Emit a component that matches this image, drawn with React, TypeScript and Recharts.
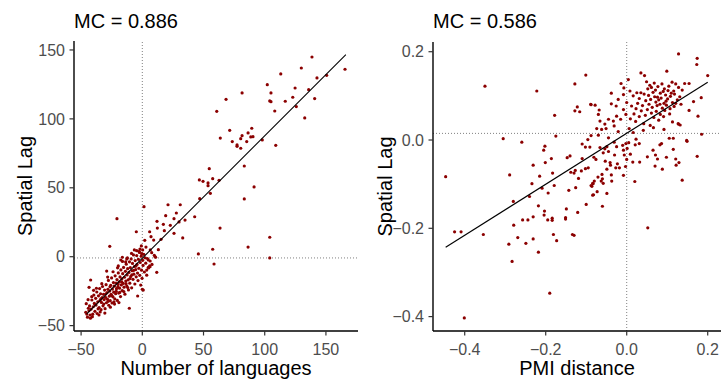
import React from "react";
import { ScatterChart, Scatter, XAxis, YAxis, ReferenceLine } from "recharts";

type Pt = [number, number];

const FONT = '"Liberation Sans", Arial, Helvetica, sans-serif';
const POINT_COLOR = "#8b0000";

// Number of languages vs. its spatial lag
const LANG_TITLE = "MC = 0.886";
const LANG_TICKS_X = [-50, 0, 50, 100, 150];
const LANG_TICKS_Y = [-50, 0, 50, 100, 150];
const LANG_MEAN_LAG = -0.9;
const LANG_FIT: Pt[] = [
  [-45.4, -41.4],
  [166.3, 146.6],
];

const LANG_HIGH: Pt[] = [
  [138.6, 144.9], [129.9, 136.9], [165.6, 136], [113.1, 132.6], [142.7, 129.7],
  [150.6, 131.6], [102.1, 124.8], [81.5, 118.8], [105.1, 118.8], [124.8, 122.4],
  [135.9, 121.2], [68.4, 114.2], [104.1, 113], [105.1, 112.5], [116.8, 112.8],
  [122.9, 115.7], [140.8, 114.7], [60.8, 105.5], [108.2, 105.7], [125.8, 108.9],
  [132.7, 100.7], [71.4, 91.7], [63.7, 86.1], [89.4, 93.2], [86.4, 89.8],
  [81.5, 87.8], [88.6, 86.9], [90.4, 87.1], [73.5, 83.5], [85.3, 83.5],
  [80.4, 85.6], [77.4, 81.1], [77.4, 80.1], [80.4, 78.7], [98, 84.7], [109, 80.8],
];

const LANG_MID: Pt[] = [
  [54.7, 63.9], [83.3, 65.8], [46.6, 55.7], [49.6, 54.7], [53.7, 53.5], [53.7, 51.5],
  [57.5, 56.6], [62.7, 55.4], [55.6, 46], [91.3, 50.6], [46.9, 42.1], [83.3, 41.9],
  [1.4, 36.3], [21, 37.7], [31, 37.7], [27.8, 31.7], [19.1, 29.8], [25.9, 27.6],
  [34.9, 26.6], [42.8, 29], [12, 25.7], [17.2, 23.5], [22.9, 22.8], [30, 25.2],
  [-20.7, 27.6], [12.3, 20.8], [18, 18.9], [6, 18.1], [-4.9, 18.1], [25.9, 17],
  [63.5, 20.8], [7.1, 14.5], [9.3, 12.1], [2, 11.9], [15.3, 12.6], [33, 13.6],
  [104.1, 14.1], [86.4, 7], [57.5, 5.4], [45.8, 2], [104.1, -0.9], [58.6, -5.3],
  [-26.6, 7.5], [13.1, 5.1], [3, 7], [-0.8, 7.8], [-6.5, 4.9], [-4.6, 4.4],
  [-2.5, 3.9], [0.3, 4.9], [-0.5, 2.2], [6.5, 4.9], [7.7, 2.9], [9.8, 1],
  [10.9, -0.4], [4.9, -2.4], [6, -6.7], [4.9, -7.7], [-16.3, -0.4], [-17.6, -2.4],
  [-19.6, -6.7], [-13.6, -3.8], [11.8, -11.3], [10.4, 0], [6.3, -7.3], [3.6, -9.7],
  [-12.7, -1.7], [-1.9, 5.6],
];

const LANG_LOW: Pt[] = [
  [-42.2, -16.9], [-43.5, -22.2], [-41.3, -29], [-44.1, -37.4], [-45.4, -41.6],
  [-42.7, -42.3], [-40.8, -43.5], [-35.4, -42.3], [-10.6, -37.4], [-3.8, -28.5],
  [0.8, -24.2], [-29.1, -10.4], [0, -23.7],
  [-46.2, -40.3], [-44.8, -43.9], [-43.6, -39.2], [-43.1, -35.7], [-42.4, -44.6],
  [-41.9, -38.1], [-41.2, -31.4], [-40.5, -41.7], [-40.1, -36.3], [-39.6, -27.8],
  [-39.2, -33.9], [-38.7, -39.6], [-38.1, -30.2], [-37.8, -35.1], [-37.2, -25.6],
  [-36.9, -41.2], [-36.4, -32.7], [-35.8, -28.4], [-35.3, -36.9], [-34.9, -23.1],
  [-34.6, -31.8], [-34.1, -26.9], [-33.7, -38.4], [-33.4, -33.2], [-32.8, -29.7],
  [-32.5, -21.6], [-32.1, -35.6], [-31.7, -27.3], [-31.2, -31.1], [-30.8, -24.2],
  [-30.4, -37.7], [-30.1, -29.5], [-29.6, -20.3], [-29.3, -33.4], [-28.8, -26.1],
  [-28.5, -30.8], [-28.1, -23.7], [-27.7, -17.2], [-27.4, -35.2], [-26.9, -28.6],
  [-26.6, -24.9], [-26.2, -31.9], [-25.8, -20.7], [-25.5, -27.3], [-25.1, -15.4],
  [-24.7, -33.6], [-24.4, -23.5], [-24.0, -29.1], [-23.6, -18.8], [-23.3, -25.7],
  [-22.9, -21.4], [-22.5, -30.5], [-22.2, -13.9], [-21.8, -26.8], [-21.5, -19.1],
  [-21.1, -23.2], [-20.7, -16.6], [-20.4, -31.7], [-20.0, -21.9], [-19.6, -11.8],
  [-19.3, -26.4], [-18.9, -18.3], [-18.6, -22.8], [-18.2, -14.7], [-17.8, -28.9],
  [-17.5, -9.6], [-17.1, -20.5], [-16.7, -16.1], [-16.4, -24.6], [-16.0, -12.3],
  [-15.6, -19.4], [-15.3, -7.8], [-14.9, -22.1], [-14.6, -14.9], [-14.2, -27.2],
  [-13.8, -10.6], [-13.5, -17.7], [-13.1, -5.4], [-12.7, -21.3], [-12.4, -13.2],
  [-12.0, -8.7], [-11.6, -16.8], [-11.3, -24.1], [-10.9, -11.4], [-10.5, -3.7],
  [-10.2, -19.2], [-9.8, -7.9], [-9.4, -14.3], [-9.1, -1.6], [-8.7, -22.6],
  [-8.3, -10.2], [-8.0, -4.9], [-7.6, -16.4], [-7.2, 1.3], [-6.9, -12.7],
  [-6.5, -7.1], [-6.1, -19.8], [-5.8, -2.8], [-5.4, -9.3], [-5.0, -14.6],
  [-4.6, 0.8], [-4.3, -5.6], [-3.9, -11.9], [-3.5, -17.3], [-3.2, -1.9],
  [-2.8, -8.4], [-2.4, 3.1], [-2.1, -13.5], [-1.7, -4.2], [-1.3, -20.6],
  [-0.9, 0.4], [-0.6, -9.8], [-0.2, -15.7], [0.3, -2.6], [0.6, -6.3],
  [1.2, 1.7], [1.7, -11.1], [2.3, -0.8], [2.8, -4.7], [3.6, -13.4],
  [4.2, -1.3], [5.1, -8.2], [6.4, -3.1], [7.9, -5.6],
  [-38.4, -34.6], [-36.1, -37.8], [-33.9, -30.6], [-31.5, -34.3], [-29.9, -27.1],
  [-27.9, -32.4], [-26.4, -21.8], [-24.9, -28.2], [-23.1, -32.7], [-21.3, -25.1],
  [-19.8, -20.1], [-18.4, -25.9], [-16.9, -18.2], [-15.1, -25.3], [-13.3, -19.6],
  [-11.9, -22.4], [-10.1, -15.9], [-8.5, -13.1], [-7.0, -9.9], [-5.2, -6.8],
  [-34.4, -40.1], [-30.6, -40.9], [-26.1, -36.6], [-22.7, -34.4], [-19.1, -33.3],
  [-37.5, -22.9], [-33.1, -19.6], [-28.3, -14.8], [-23.9, -10.9], [-20.2, -8.1],
  [-16.2, -3.4], [-12.2, -0.9], [-8.8, 2.4], [-39.8, -24.4], [-44.3, -31.2],
  [-45.8, -34.1],
];

// PMI distance vs. its spatial lag
const PMI_TITLE = "MC = 0.586";
const PMI_TICKS_X = [-0.4, -0.2, 0, 0.2];
const PMI_TICKS_Y = [-0.4, -0.2, 0, 0.2];
const PMI_MEAN_LAG = 0.015;
const PMI_FIT: Pt[] = [
  [-0.447, -0.243],
  [0.2, 0.131],
];

const PMI_WEST: Pt[] = [
  [-0.35, 0.122], [-0.222, 0.111], [-0.101, 0.147], [-0.128, 0.127], [-0.088, 0.08],
  [-0.128, 0.066], [-0.122, 0.075], [-0.116, 0.064], [-0.178, 0.056], [-0.175, 0.009],
  [-0.305, 0.003], [-0.259, -0.005], [-0.202, -0.014], [-0.205, -0.023], [-0.186, -0.042],
  [-0.231, -0.057], [-0.201, -0.051], [-0.447, -0.083], [-0.289, -0.079], [-0.215, -0.082],
  [-0.183, -0.075], [-0.234, -0.099], [-0.209, -0.109], [-0.194, -0.12], [-0.179, -0.103],
  [-0.24, -0.128], [-0.28, -0.139], [-0.218, -0.149], [-0.203, -0.161], [-0.204, -0.17],
  [-0.231, -0.174], [-0.195, -0.181], [-0.184, -0.177], [-0.184, -0.182], [-0.257, -0.181],
  [-0.244, -0.181], [-0.279, -0.193], [-0.425, -0.208], [-0.409, -0.208], [-0.354, -0.214],
  [-0.291, -0.236], [-0.269, -0.221], [-0.249, -0.234], [-0.231, -0.224], [-0.218, -0.254],
  [-0.283, -0.275], [-0.181, -0.214], [-0.173, -0.228], [-0.19, -0.347], [-0.401, -0.403],
  [-0.147, -0.04], [-0.14, -0.036], [-0.11, -0.009], [-0.102, -0.016], [-0.096, 0.001],
  [-0.091, -0.016], [-0.088, 0.01], [-0.11, -0.042], [-0.138, -0.073], [-0.13, -0.075],
  [-0.127, -0.069], [-0.112, -0.07], [-0.102, -0.065], [-0.095, -0.063], [-0.119, -0.087],
  [-0.126, -0.108], [-0.143, -0.114], [-0.086, -0.105], [-0.083, -0.099], [-0.1, -0.146],
  [-0.149, -0.156], [-0.151, -0.176], [-0.151, -0.179], [-0.121, -0.164], [-0.134, -0.214],
  [-0.13, -0.216], [-0.084, -0.125],
];

const PMI_EAST: Pt[] = [
  [0.128, 0.195], [0.174, 0.185], [0.173, 0.171], [0.2, 0.146], [0.099, 0.156],
  [0.035, 0.152], [0.044, 0.146], [0.004, 0.137], [-0.014, 0.128], [0.184, 0.096],
  [0.165, 0.087], [0.154, 0.067], [0.176, 0.054], [0.143, 0.128], [0.154, 0.128],
  [-0.038, 0.106], [-0.038, 0.082], [-0.089, 0.081], [-0.078, 0.079], [-0.068, 0.068],
  [-0.07, 0.058], [0.025, 0.107], [0.035, 0.107],
  [0.049, 0.132], [0.057, 0.124], [0.068, 0.129], [0.077, 0.121], [0.087, 0.127],
  [0.093, 0.116], [0.104, 0.122], [0.112, 0.131], [0.121, 0.127], [0.128, 0.119],
  [0.137, 0.113], [0.116, 0.111], [0.071, 0.113], [0.061, 0.119], [0.052, 0.116],
  [0.043, 0.104], [0.054, 0.101], [0.065, 0.108], [0.076, 0.097], [0.083, 0.106],
  [0.096, 0.102], [0.108, 0.099], [0.118, 0.104], [0.131, 0.098], [0.031, 0.094],
  [0.047, 0.089], [0.059, 0.092], [0.072, 0.086], [0.079, 0.091], [0.092, 0.083],
  [0.101, 0.093], [0.113, 0.085], [0.125, 0.091], [0.134, 0.081], [0.027, 0.083],
  [0.039, 0.078], [0.055, 0.081], [0.063, 0.074], [0.075, 0.078], [0.088, 0.072],
  [0.098, 0.079], [0.107, 0.071], [0.117, 0.076], [0.023, 0.071], [0.036, 0.066],
  [0.051, 0.069], [0.061, 0.061], [0.073, 0.065], [0.083, 0.058], [0.094, 0.067],
  [0.106, 0.059], [0.018, 0.059], [0.031, 0.053], [0.046, 0.056], [0.067, 0.051],
  [0.079, 0.045], [0.091, 0.053], [0.113, 0.041], [0.128, 0.036], [0.009, 0.048],
  [0.022, 0.042], [0.042, 0.037], [0.058, 0.033], [0.102, 0.112], [0.097, 0.088],
  [0.085, 0.095], [0.11, 0.106], [0.121, 0.083], [0.069, 0.098], [0.082, 0.081],
  [0.09, 0.11], [0.008, 0.111], [0.016, 0.1], [0, 0.085], [0.012, 0.077],
  [-0.008, 0.069], [-0.002, 0.058], [-0.015, 0.047], [-0.025, 0.054], [-0.033, 0.043],
  [-0.045, 0.047], [-0.054, 0.036], [-0.066, 0.043], [-0.008, 0.103], [-0.021, 0.092],
  [-0.026, 0.077], [-0.007, 0.118],
];

const PMI_SOUTH: Pt[] = [
  [-0.074, 0.026], [-0.062, 0.024], [-0.051, 0.026], [-0.07, 0.011], [-0.045, 0.005],
  [-0.031, 0.032], [-0.021, 0.019], [0.006, 0.026], [0.016, 0.017], [0.023, 0.002],
  [0.041, 0.022], [0.066, 0.028], [0.092, 0.024], [0.105, 0.004], [0.115, 0.004],
  [0.148, -0.001], [0.185, 0.013], [0.132, 0.034], [0.127, 0.037],
  [0.052, -0.199], [0.137, -0.091], [0.174, -0.037], [0.149, -0.003], [0.115, -0.021],
  [0.098, -0.039], [0.121, -0.043], [0.129, -0.051], [0.122, -0.057], [0.088, -0.066],
  [0.07, -0.059], [0.065, -0.023], [0.071, -0.034], [0.076, -0.043], [0.051, -0.038],
  [0.082, -0.011], [0.086, -0.008], [0.02, -0.094], [0.032, -0.05], [0.015, -0.05],
  [-0.003, -0.06], [-0.008, -0.08], [-0.018, -0.063], [-0.027, -0.063], [-0.023, -0.054],
  [-0.041, -0.051], [-0.04, -0.057], [-0.053, -0.048], [-0.049, -0.066], [-0.03, -0.034],
  [-0.045, -0.026], [-0.058, -0.029], [-0.054, -0.02], [-0.066, -0.017], [-0.049, -0.015],
  [-0.076, -0.044], [-0.081, -0.039], [-0.071, -0.084], [-0.061, -0.078], [-0.06, -0.088],
  [-0.063, -0.093], [-0.058, -0.098], [-0.038, -0.079], [-0.037, -0.093], [-0.08, -0.093],
  [-0.084, -0.098], [-0.088, -0.103], [-0.073, -0.117], [-0.082, -0.124], [-0.049, -0.121],
  [-0.06, -0.15], [-0.01, -0.012], [-0.002, -0.008], [0.005, -0.006], [-0.006, -0.034],
  [-0.008, -0.023], [0.009, -0.032], [0, -0.044], [0.001, -0.019], [-0.031, -0.005],
  [-0.025, -0.015], [0.021, -0.011], [0.031, -0.008],
];

const toRows = (pts: Pt[]) => pts.map(([x, y]) => ({ x, y }));
const minus = (s: string) => s.replace("-", "\u2212");

const Dot = (props: any) => (
  <circle cx={props.cx} cy={props.cy} r={1.6} fill={POINT_COLOR} />
);
const NoDot = () => <g />;

interface PanelProps {
  left: number;
  width: number;
  title: string;
  xLabel: string;
  points: Pt[];
  fit: Pt[];
  meanLag: number;
  xDomain: [number, number];
  yDomain: [number, number];
  xTicks: number[];
  yTicks: number[];
  axisWidth: number;
  top: number;
  rightPad: number;
  fmt: (v: number) => string;
}

function MoranPanel(p: PanelProps) {
  const tickStyle = { fill: "#4d4d4d", fontSize: 16, fontFamily: FONT };
  return (
    <div style={{ position: "absolute", left: p.left, top: 0, width: p.width, height: 381 }}>
      <ScatterChart
        width={p.width}
        height={381}
        margin={{ top: p.top, right: p.rightPad, bottom: 0, left: 0 }}
      >
        <XAxis
          type="number"
          dataKey="x"
          domain={p.xDomain}
          ticks={p.xTicks}
          allowDataOverflow
          height={50}
          tick={tickStyle}
          tickFormatter={(v: number) => minus(p.fmt(v))}
          tickSize={4.5}
          tickMargin={8}
          axisLine={{ stroke: "#000", strokeWidth: 1.4 }}
          tickLine={{ stroke: "#333", strokeWidth: 1.2 }}
          label={{
            content: ({ viewBox }: any) => (
              <text
                x={viewBox.x + viewBox.width / 2}
                y={375}
                textAnchor="middle"
                fontSize={20}
                fontFamily={FONT}
                fill="#000"
              >
                {p.xLabel}
              </text>
            ),
          }}
        />
        <YAxis
          type="number"
          dataKey="y"
          domain={p.yDomain}
          ticks={p.yTicks}
          allowDataOverflow
          width={p.axisWidth}
          tick={tickStyle}
          tickFormatter={(v: number) => minus(p.fmt(v))}
          tickSize={4.5}
          tickMargin={4.5}
          axisLine={{ stroke: "#000", strokeWidth: 1.4 }}
          tickLine={{ stroke: "#333", strokeWidth: 1.2 }}
          label={{
            content: ({ viewBox }: any) => {
              const cy = viewBox.y + viewBox.height / 2;
              return (
                <text
                  x={25}
                  y={cy}
                  transform={`rotate(-90 25 ${cy})`}
                  textAnchor="middle"
                  dominantBaseline="central"
                  fontSize={20}
                  fontFamily={FONT}
                  fill="#000"
                >
                  Spatial Lag
                </text>
              );
            },
          }}
        />
        <ReferenceLine x={0} stroke="#808080" strokeDasharray="1 2" strokeWidth={1} />
        <ReferenceLine y={p.meanLag} stroke="#808080" strokeDasharray="1 2" strokeWidth={1} />
        <Scatter data={toRows(p.points)} shape={Dot} isAnimationActive={false} />
        <Scatter
          data={toRows(p.fit)}
          shape={NoDot}
          line={{ stroke: "#000", strokeWidth: 1.1 }}
          isAnimationActive={false}
        />
      </ScatterChart>
      <div
        style={{
          position: "absolute",
          left: p.axisWidth,
          top: 9,
          fontSize: 20,
          lineHeight: "24px",
          fontFamily: FONT,
          color: "#000",
        }}
      >
        {p.title}
      </div>
    </div>
  );
}

export default function App() {
  return (
    <div
      style={{
        position: "absolute",
        left: 0,
        top: 0,
        width: 721,
        height: 381,
        background: "#fff",
        overflow: "hidden",
      }}
    >
      <MoranPanel
        left={0}
        width={360}
        title={LANG_TITLE}
        xLabel="Number of languages"
        points={[...LANG_HIGH, ...LANG_MID, ...LANG_LOW]}
        fit={LANG_FIT}
        meanLag={LANG_MEAN_LAG}
        xDomain={[-55.8, 176.2]}
        yDomain={[-53.9, 156.5]}
        xTicks={LANG_TICKS_X}
        yTicks={LANG_TICKS_Y}
        axisWidth={74}
        top={41}
        rightPad={2}
        fmt={(v) => String(v)}
      />
      <MoranPanel
        left={360}
        width={361}
        title={PMI_TITLE}
        xLabel="PMI distance"
        points={[...PMI_WEST, ...PMI_EAST, ...PMI_SOUTH]}
        fit={PMI_FIT}
        meanLag={PMI_MEAN_LAG}
        xDomain={[-0.4783, 0.2328]}
        yDomain={[-0.4326, 0.222]}
        xTicks={PMI_TICKS_X}
        yTicks={PMI_TICKS_Y}
        axisWidth={73}
        top={42}
        rightPad={0}
        fmt={(v) => v.toFixed(1)}
      />
    </div>
  );
}
